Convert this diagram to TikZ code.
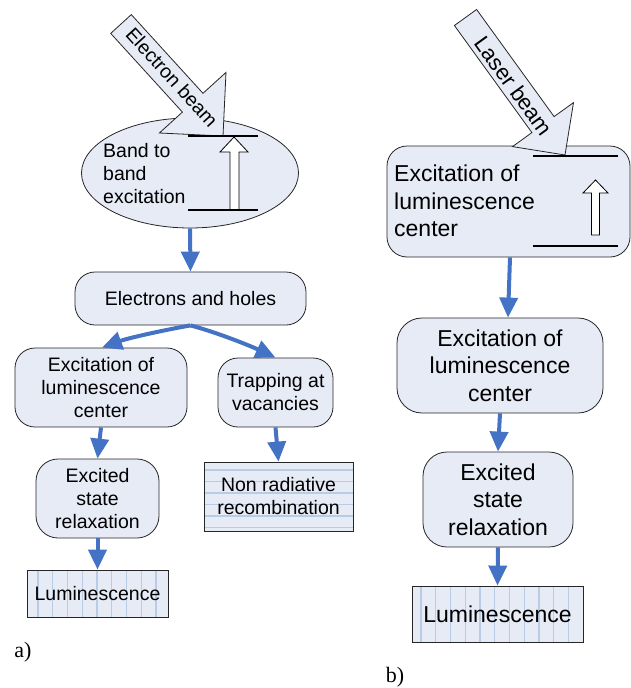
\documentclass[tikz,border=0pt]{standalone}
\usepackage{fontspec}
\setmainfont{Liberation Sans}
\newfontfamily\labelserif{Liberation Serif}
\usetikzlibrary{arrows.meta,shapes.geometric}
\definecolor{boxfill}{RGB}{231,235,246}
\definecolor{flowblue}{RGB}{68,114,196}
\definecolor{stripeblue}{RGB}{184,204,230}
\begin{document}
\begin{tikzpicture}[x=1pt,y=-1pt,
  lfont/.style={font=\fontsize{19.5}{23}\selectfont},
  rfont/.style={font=\fontsize{23}{27.5}\selectfont},
  rbox/.style={draw=black!85, line width=0.8pt, fill=boxfill, rounded corners=#1, align=center, inner sep=0pt},
  rbox/.default=20pt,
  sbox/.style={draw=black!85, line width=0.8pt, fill=boxfill, align=center, inner sep=0pt},
  vstripes/.style={path picture={\foreach \k in {0,...,12}
      \draw[draw=stripeblue, line width=1.4pt]
        ([xshift={(#1+\k*14.75)*1pt}]path picture bounding box.south west) --
        ([xshift={(#1+\k*14.75)*1pt}]path picture bounding box.north west);}},
  hstripes/.style={path picture={\foreach \k in {0,...,6}
      \draw[draw=stripeblue, line width=1.4pt]
        ([yshift={-(#1+\k*11.5)*1pt}]path picture bounding box.north west) --
        ([yshift={-(#1+\k*11.5)*1pt}]path picture bounding box.north east);}},
  flow/.style={draw=flowblue, line width=4pt, -{Triangle[width=18pt,length=20pt]}},
  beam/.style={draw=black!85, line width=0.8pt, fill=boxfill, line join=miter},
  level/.style={draw=black, line width=1.6pt},
  hollow/.style={draw=black, line width=0.8pt, fill=white},
  plain/.style={inner sep=0pt},
  sublabel/.style={inner sep=0pt, font=\labelserif\fontsize{22}{26}\selectfont}
]
\useasboundingbox (0,0) rectangle (631,688);

% ---------- a) ----------
\node[ellipse, draw=black!85, line width=0.8pt, fill=boxfill, minimum width=217pt, minimum height=110pt, inner sep=0pt] (ell) at (190,173) {};
\node[plain, lfont, align=left, anchor=west] (bbtext) at (103,173.5) {Band to\\band\\excitation};
\draw[hollow] (230,210) -- (230,152) -- (220,152) -- (234,137) -- (248,152) -- (239,152) -- (239,210) -- cycle;
\draw[beam] (110.7,33.4) -- (182.4,112.1) -- (159.4,133) -- (223,136) -- (226,72.4) -- (203,93.3) -- (131.3,14.6) -- cycle;
\node[plain, lfont, rotate=-47.7] (ebtext) at (172,77) {Electron beam};
\draw[level] (188,136) -- (258,136);
\draw[level] (188,210) -- (258,210);

\node[rbox=20pt, lfont, minimum width=231pt, minimum height=53pt] (eh) at (190.5,298.5) {Electrons and holes};
\node[rbox=20pt, lfont, minimum width=172pt, minimum height=79pt] (exc) at (101,387.5) {Excitation of\\luminescence\\center};
\node[rbox=20pt, lfont, minimum width=115pt, minimum height=69pt] (trap) at (275.5,392.5) {Trapping at\\vacancies};
\node[rbox=22pt, lfont, minimum width=123pt, minimum height=79pt] (rel) at (97.5,498.5) {Excited\\state\\relaxation};
\node[sbox, lfont, minimum width=149pt, minimum height=69pt, hstripes=8] (nonrad) at (278.5,496.5) {Non radiative\\recombination};
\node[sbox, lfont, minimum width=141pt, minimum height=47pt, vstripes=11] (lum) at (97.5,593.5) {Luminescence};

\draw[flow] (ell.south) -- (eh.north);
\draw[flow] (eh.south) .. controls +(-27.6,4.9) and +(26.3,-9.6) .. ([xshift=1pt]exc.north);
\draw[flow] (eh.south) .. controls +(27,7.2) and +(-25.4,-11.8) .. (trap.north);
\draw[flow] (exc.south) -- (rel.north);
\draw[flow] (trap.south) -- (nonrad.north);
\draw[flow] (rel.south) -- (lum.north);

\node[sublabel] (la) at (23,652.5) {a)};

% ---------- b) ----------
\node[rbox=20pt, minimum width=243pt, minimum height=111pt] (top) at (508.5,201.5) {};
\node[plain, rfont, align=left, anchor=west] (toptext) at (394,201) {Excitation of\\luminescence\\center};
\draw[beam] (454.4,25.5) -- (531.9,132.6) -- (512.5,146.6) -- (565,155) -- (573.5,102.6) -- (554.1,116.6) -- (476.6,9.5) -- cycle;
\node[plain, font=\fontsize{22}{26}\selectfont, rotate=-54.1] (lbtext) at (514,86) {Laser beam};
\draw[level] (533,156) -- (618,156);
\draw[level] (533,246) -- (618,246);
\draw[hollow] (591.5,235) -- (591.5,193) -- (583,193) -- (595.5,180) -- (608,193) -- (599.5,193) -- (599.5,235) -- cycle;

\node[rbox=25pt, rfont, minimum width=206pt, minimum height=95pt] (exc2) at (500,365.5) {Excitation of\\luminescence\\center};
\node[rbox=24pt, rfont, minimum width=150pt, minimum height=95pt] (rel2) at (498,499.5) {Excited\\state\\relaxation};
\node[sbox, rfont, minimum width=171pt, minimum height=56pt, vstripes=9] (lum2) at (497.5,614) {Luminescence};

\draw[flow] ([xshift=1.5pt]top.south) -- ([xshift=8pt]exc2.north);
\draw[flow] (exc2.south) -- (rel2.north);
\draw[flow] (rel2.south) -- (lum2.north);

\node[sublabel] (lb) at (395,677) {b)};
\end{tikzpicture}
\end{document}
